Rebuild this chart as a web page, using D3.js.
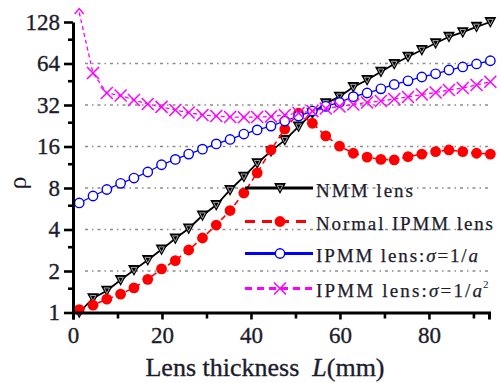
<!DOCTYPE html>
<html>
<head>
<meta charset="utf-8">
<script src="https://cdn.jsdelivr.net/npm/d3@7"></script>
<style>
  body { margin: 0; background: #fff; }
  svg text { font-family: "Liberation Serif", "DejaVu Serif", serif; }
</style>
</head>
<body>
<div id="chart"></div>
<script>
// lens thickness L (mm) for every sample
const thickness = [1.4, 4.5, 7.6, 10.7, 13.7, 16.8, 19.9, 23.0, 26.0, 29.1, 32.2, 35.3, 38.4, 41.4, 44.5, 47.6,
  50.7, 53.8, 56.8, 59.9, 63.0, 66.1, 69.2, 72.2, 75.3, 78.4, 81.5, 84.5, 87.6, 90.7, 93.8];

const nmmLens = [1.00, 1.27, 1.44, 1.72, 2.03, 2.40, 2.86, 3.44, 4.07, 5.05, 6.02, 7.74, 9.66, 12.1, 14.8, 17.8,
  22.3, 27.9, 32.9, 36.8, 43.2, 48.6, 55.8, 63.5, 71.7, 80.2, 89.7, 100, 108, 118, 128];

const normalIpmm = [1.05, 1.13, 1.25, 1.36, 1.51, 1.74, 2.07, 2.38, 2.84, 3.47, 4.31, 5.49, 7.36, 10.3, 15.1, 21.4,
  27.9, 23.6, 19.1, 16.1, 14.3, 13.4, 12.9, 12.8, 13.5, 14.1, 14.7, 15.1, 14.7, 14.3, 14.1];

const ipmmA = [6.23, 7.0, 7.8, 8.65, 9.45, 10.45, 11.8, 12.9, 14.1, 15.3, 16.7, 18.0, 19.7, 21.1, 22.5, 24.5,
  26.6, 28.9, 31.3, 33.4, 36.8, 39.1, 41.9, 45.1, 47.9, 51.1, 53.9, 57.4, 60.4, 63.5, 67.0];

// first value runs off the top of the chart (drawn as an arrow)
const ipmmA2 = [150, 54.6, 39.1, 37.5, 34.8, 32.5, 31.0, 29.4, 28.2, 27.1, 26.6, 26.2, 26.1, 26.2, 26.4, 27.1,
  28.0, 28.9, 30.2, 31.2, 32.3, 33.4, 34.2, 35.4, 36.6, 38.1, 39.4, 41.1, 42.5, 44.7, 47.2];

const yTicks = [1, 2, 4, 8, 16, 32, 64, 128];
const yMinorTicks = [1.5, 3, 6, 12, 24, 48, 96];
const gridValues = [2, 4, 8, 16, 32, 64];
const xTicks = [0, 20, 40, 60, 80];
const xMinorTicks = [10, 30, 50, 70, 90];

const W = 501, H = 383;
const serif = '"Liberation Serif", "DejaVu Serif", serif';
const textColor = '#1c1c2c';

const x = d3.scaleLinear().domain([0, 93.5]).range([73, 489]);
const y = d3.scaleLog().base(2).domain([1, 128]).range([312.5, 22]);

const svg = d3.select('#chart')
  .append('svg')
  .attr('width', W)
  .attr('height', H)
  .attr('font-family', serif);

// dotted grid lines
svg.append('g')
  .selectAll('line')
  .data(gridValues)
  .join('line')
  .attr('x1', 85)
  .attr('x2', 490)
  .attr('y1', d => y(d))
  .attr('y2', d => y(d))
  .attr('stroke', '#8c8c8c')
  .attr('stroke-width', 1.3)
  .attr('stroke-dasharray', '3,4,1.5,4');

// series
const series = [
  { values: nmmLens, color: '#000', dash: null, width: 1.8, marker: 'tri' },
  { values: normalIpmm, color: '#ff0000', dash: '6,4', width: 1.6, marker: 'dot' },
  { values: ipmmA, color: '#0000ff', dash: null, width: 1.3, marker: 'ring' },
  { values: ipmmA2, color: '#ff00ff', dash: '4,3', width: 1.3, marker: 'cross' },
];

const line = d3.line()
  .x((d, i) => x(thickness[i]))
  .y(d => y(d));

function drawMarker(g, type, color) {
  if (type === 'tri') {
    g.append('path').attr('d', 'M-6,-5L6,-5L0,6Z').attr('fill', '#000');
    g.append('path').attr('d', 'M-2.8,-2.7L2.8,-2.7L0,2.8Z')
      .attr('fill', 'none').attr('stroke', '#b5b5b5').attr('stroke-width', 0.9);
  } else if (type === 'dot') {
    g.append('circle').attr('r', 5.4).attr('fill', color);
  } else if (type === 'ring') {
    g.append('circle').attr('r', 4.7).attr('fill', '#fff')
      .attr('stroke', color).attr('stroke-width', 1.4);
  } else {
    g.append('path').attr('d', 'M-6,-6L6,6M-6,6L6,-6')
      .attr('fill', 'none').attr('stroke', color).attr('stroke-width', 1.5);
  }
}

series.forEach(s => {
  svg.append('path')
    .datum(s.values)
    .attr('d', line)
    .attr('fill', 'none')
    .attr('stroke', s.color)
    .attr('stroke-width', s.width)
    .attr('stroke-dasharray', s.dash);

  const start = s.marker === 'cross' ? 1 : 0;
  s.values.forEach((v, i) => {
    if (i < start) return;
    const g = svg.append('g').attr('transform', `translate(${x(thickness[i])},${y(v)})`);
    drawMarker(g, s.marker, s.color);
  });
});

// arrow head where the magenta curve leaves the chart
svg.append('path')
  .attr('transform', `translate(${x(thickness[0])},${y(ipmmA2[0])})`)
  .attr('d', 'M-4.5,1.5L0,-4L4.5,1.5')
  .attr('fill', 'none')
  .attr('stroke', '#ff00ff')
  .attr('stroke-width', 1.4);

// axes
svg.append('g')
  .attr('transform', `translate(${x(0)},0)`)
  .call(d3.axisLeft(y).tickValues(yTicks).tickFormat(d3.format('d'))
    .tickSize(9).tickSizeOuter(0).tickPadding(4));
svg.append('g')
  .attr('transform', `translate(${x(0)},0)`)
  .call(d3.axisLeft(y).tickValues(yMinorTicks).tickFormat('').tickSize(5).tickSizeOuter(0))
  .call(g => g.select('.domain').remove());

svg.append('g')
  .attr('transform', `translate(0,${y(1)})`)
  .call(d3.axisBottom(x).tickValues(xTicks).tickFormat(d3.format('d'))
    .tickSize(7).tickSizeOuter(7).tickPadding(7));
svg.append('g')
  .attr('transform', `translate(0,${y(1)})`)
  .call(d3.axisBottom(x).tickValues(xMinorTicks).tickFormat('').tickSize(6).tickSizeOuter(0))
  .call(g => g.select('.domain').remove());

svg.selectAll('g[font-family]').attr('font-family', serif).attr('font-size', 23);
svg.selectAll('.domain').attr('stroke', '#000').attr('stroke-width', 3);
svg.selectAll('.tick line').attr('stroke', '#000').attr('stroke-width', 2.6);
svg.selectAll('.tick text')
  .attr('fill', textColor)
  .attr('stroke', textColor)
  .attr('stroke-width', 0.35)
  .attr('font-family', serif)
  .attr('font-size', 23);

// axis titles
svg.append('text')
  .attr('transform', 'translate(26,183) rotate(-90)')
  .attr('text-anchor', 'middle')
  .attr('fill', textColor)
  .attr('font-size', 26)
  .text('ρ');

const xTitle = svg.append('text')
  .attr('x', 265)
  .attr('y', 376)
  .attr('text-anchor', 'middle')
  .attr('fill', textColor)
  .attr('stroke', textColor)
  .attr('stroke-width', 0.35)
  .attr('font-size', 26)
  .style('white-space', 'pre');
xTitle.append('tspan').text('Lens thickness  ');
xTitle.append('tspan').attr('font-style', 'italic').text('L');
xTitle.append('tspan').text('(mm)');

// legend
const legendRows = [
  { y: 188, color: '#000', dash: null, marker: 'tri', width: 97,
    parts: [['NMM lens', 'normal']] },
  { y: 221.5, color: '#ff0000', dash: '10,7', marker: 'dot', width: 177,
    parts: [['Normal IPMM lens', 'normal']] },
  { y: 253.5, color: '#0000ff', dash: null, marker: 'ring', width: 162,
    parts: [['IPMM lens:', 'normal'], ['σ', 'italic'], ['=1/', 'normal'], ['a', 'italic']] },
  { y: 288.5, color: '#ff00ff', dash: '7,5', marker: 'cross', width: 166,
    parts: [['IPMM lens:', 'normal'], ['σ', 'italic'], ['=1/', 'normal'], ['a', 'italic']], sup: '2' },
];

legendRows.forEach(r => {
  const g = svg.append('g').attr('transform', `translate(0,${r.y})`);
  g.append('line')
    .attr('x1', 245).attr('x2', 313)
    .attr('stroke', r.color)
    .attr('stroke-width', 2.8)
    .attr('stroke-dasharray', r.dash);
  const m = g.append('g').attr('transform', 'translate(280,0)');
  drawMarker(m, r.marker, r.color);

  const t = g.append('text')
    .attr('x', 316)
    .attr('y', 8.5)
    .attr('fill', textColor)
    .attr('stroke', textColor)
    .attr('stroke-width', 0.25)
    .attr('font-size', 19)
    .attr('textLength', r.width)
    .attr('lengthAdjust', 'spacing');
  r.parts.forEach(p => t.append('tspan').attr('font-style', p[1]).text(p[0]));
  if (r.sup) {
    g.append('text')
      .attr('x', 316 + r.width + 1)
      .attr('y', -1)
      .attr('fill', textColor)
      .attr('font-size', 11)
      .text(r.sup);
  }
});
</script>
</body>
</html>
